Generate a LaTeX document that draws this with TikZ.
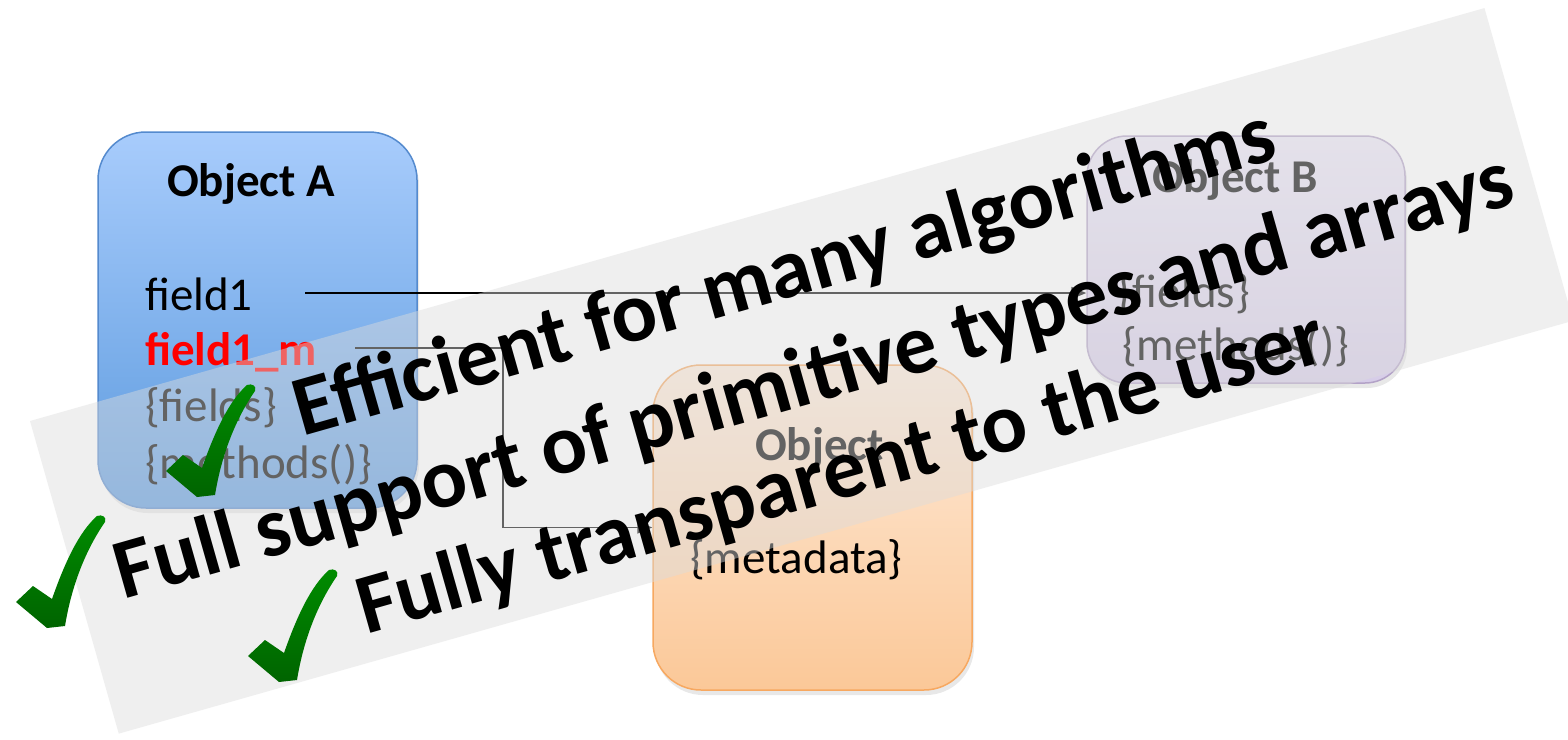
\documentclass[tikz,border=0pt]{standalone}
\usepackage{fontspec}
\setmainfont{Carlito}
\usetikzlibrary{arrows.meta,shadows}
\definecolor{Atop}{RGB}{168,204,252}
\definecolor{Abot}{RGB}{92,154,222}
\definecolor{Aborder}{RGB}{84,138,206}
\definecolor{Btop}{RGB}{236,231,247}
\definecolor{Bbot}{RGB}{214,204,232}
\definecolor{Bborder}{RGB}{179,162,199}
\definecolor{Otop}{RGB}{254,235,218}
\definecolor{Obot}{RGB}{251,200,152}
\definecolor{Oborder}{RGB}{247,168,96}
\definecolor{bandgray}{RGB}{220,220,220}
\definecolor{ckTop}{RGB}{0,140,0}
\definecolor{ckBot}{RGB}{0,100,0}
\tikzset{
  objbox/.style={line width=1.5pt, drop shadow={opacity=0.18, shadow xshift=2pt, shadow yshift=-5pt}},
  boxtext/.style={inner sep=0pt, anchor=base west, font=\fontsize{47}{57}\selectfont},
  boxtitle/.style={boxtext, font=\fontsize{47}{57}\selectfont\bfseries},
  conn/.style={line width=1.6pt, black},
  bigtext/.style={inner sep=0pt, anchor=base, transform shape, font=\fontsize{85}{104}\selectfont\bfseries},
  checkmk/.pic={
    \shade[top color=ckTop, bottom color=ckBot]
      (0,0) -- (-31,-26) -- (-14,-42) -- (5,-29)
      .. controls (18,-66) and (32,-96) .. (50,-112)
      .. controls (55,-114) and (60,-111) .. (58,-106)
      .. controls (40,-80) and (25,-45) .. (18,-2) -- cycle;
  }
}
\begin{document}
\begin{tikzpicture}[x=1pt,y=-1pt]
\useasboundingbox (0,0) rectangle (1568,739);
\clip (0,0) rectangle (1568,739);
\fill[white] (0,0) rectangle (1568,739);

% boxes
\node[objbox, draw=Aborder, top color=Atop, bottom color=Abot, rounded corners=48pt,
      minimum width=319pt, minimum height=376pt] (A) at (257.5,320) {};
\node[objbox, draw=Bborder, top color=Btop, bottom color=Bbot, rounded corners=40pt,
      minimum width=318pt, minimum height=247pt] (B) at (1246,259.5) {};
\node[objbox, draw=Oborder, top color=Otop, bottom color=Obot, rounded corners=48pt,
      minimum width=319pt, minimum height=325pt] (O) at (812.5,527.5) {};

% texts of object A
\node[boxtitle] (Atitle) at (167,196) {Object A};
\node[boxtext] (f1) at (145,310) {field1};
\node[boxtext, text=red, font=\fontsize{47}{57}\selectfont\bfseries] (f1m) at (145,365) {field1\_m};
\node[boxtext] (Af) at (145,421) {\{fields\}};
\node[boxtext] (Am) at (145,478) {\{methods()\}};

% texts of object B
\node[boxtitle] (Btitle) at (1152,192) {Object B};
\node[boxtext] (Bf) at (1118,307) {\{fields\}};
\node[boxtext] (Bm) at (1122,360) {\{methods()\}};

% texts of object (metadata)
\node[boxtitle] (Otitle) at (755,460) {Object};
\node[boxtext] (Om) at (690,573) {\{metadata\}};

% connectors
\coordinate (c1) at (305,293);
\draw[conn, -{Triangle[length=15pt,width=12pt]}] (c1) -- (c1 -| B.west);
\coordinate (c2) at (355,348);
\coordinate (c2k) at (503,348);
\draw[conn, -{Triangle[length=15pt,width=12pt]}] (c2) -- (c2k) |- (O.west);

% translucent band with the statements
\begin{scope}[shift={(30,421)}, rotate=15.85]
  \fill[bandgray, opacity=0.45] (0,0) rectangle (1512,325);
  \node[bigtext] (t1) at (766,89) {Efficient for many algorithms};
  \node[bigtext] (t2) at (766,197) {Full support of primitive types and arrays};
  \node[bigtext] (t3) at (766,297) {Fully transparent to the user};
\end{scope}

% check marks
\pic at (197,497) {checkmk};
\pic at (47,628) {checkmk};
\pic at (279,682) {checkmk};
\end{tikzpicture}
\end{document}
